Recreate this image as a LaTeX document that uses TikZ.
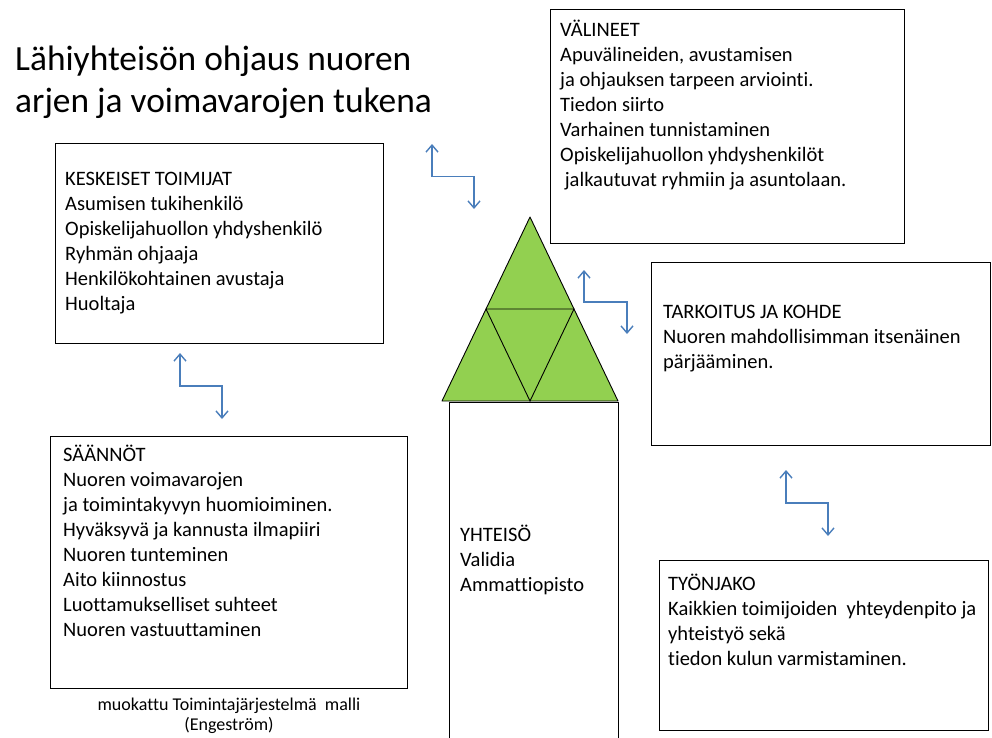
\documentclass[tikz,border=0pt]{standalone}
\usepackage{fontspec}
\setmainfont{Carlito}[Ligatures=NoCommon]
\usetikzlibrary{arrows.meta,calc}

\definecolor{linkblue}{HTML}{4A7EBB}
\definecolor{trigreen}{HTML}{92D050}
\newcommand\boxfont{\fontsize{20.5}{25}\selectfont}

\begin{document}
\begin{tikzpicture}[%
    x=1pt, y=-1pt,                        % Work in pixels, top-down
    >={Straight Barb[length=7pt,width=12pt]}, % Open barbs on the links
    ]
% -------------------------------------------------
% Box and text styles
\tikzset{
  box/.style={draw, anchor=north west, inner sep=0pt, line width=0.9pt},
  txt/.style={anchor=north west, align=left, inner sep=0pt, font=\boxfont},
  % Blue double-headed elbow links
  link/.style={<->, draw=linkblue, line width=1.4pt},
  tri/.style={fill=trigreen, draw=black, line width=0.9pt, line join=round}
}
\useasboundingbox (0,0) rectangle (992,737);
% -------------------------------------------------
% Title
\node [anchor=north west, align=left, inner sep=0pt,
       font={\fontsize{35.4}{42}\selectfont}] (title) at (15,40.6)
  {\strut Lähiyhteisön ohjaus nuoren\\arjen ja voimavarojen tukena};

% The boxes, then their texts (a strut on the first line fixes its top)
\node [box, minimum width=328, minimum height=200] (toimijat) at (55,143) {};
\node [box, minimum width=354, minimum height=234] (valineet) at (550,9) {};
\node [box, minimum width=339, minimum height=183] (tarkoitus) at (651,262) {};
\node [box, minimum width=357, minimum height=252] (saannot) at (50,436) {};
\node [box, minimum width=329, minimum height=170] (tyonjako) at (659,560) {};
\node [box, minimum width=169, minimum height=345] (yhteiso) at (449,402) {};

\node [txt] (toimijat-txt) at ([shift={(10,24.5)}]toimijat.north west)
  {\strut KESKEISET TOIMIJAT\\Asumisen tukihenkilö\\Opiskelijahuollon yhdyshenkilö\\
   Ryhmän ohjaaja\\Henkilökohtainen avustaja\\Huoltaja};
\node [txt] (valineet-txt) at ([shift={(10,9.5)}]valineet.north west)
  {\strut VÄLINEET\\Apuvälineiden, avustamisen\\ja ohjauksen tarpeen arviointi.\\
   Tiedon siirto\\Varhainen tunnistaminen\\Opiskelijahuollon yhdyshenkilöt\\
   \ jalkautuvat ryhmiin ja asuntolaan.};
\node [txt] (tarkoitus-txt) at ([shift={(12,38.5)}]tarkoitus.north west)
  {\strut TARKOITUS JA KOHDE\\Nuoren mahdollisimman itsenäinen\\pärjääminen.};
\node [txt] (saannot-txt) at ([shift={(13,7.5)}]saannot.north west)
  {\strut SÄÄNNÖT\\Nuoren voimavarojen\\ja toimintakyvyn huomioiminen.\\
   Hyväksyvä ja kannusta ilmapiiri\\Nuoren tunteminen\\Aito kiinnostus\\
   Luottamukselliset suhteet\\Nuoren vastuuttaminen};
\node [txt] (tyonjako-txt) at ([shift={(9,12.5)}]tyonjako.north west)
  {\strut TYÖNJAKO\\Kaikkien toimijoiden\ \ yhteydenpito ja\\yhteistyö sekä\\
   tiedon kulun varmistaminen.};
\node [txt] (yhteiso-txt) at ([shift={(11,121.5)}]yhteiso.north west)
  {\strut YHTEISÖ\\Validia\\Ammattiopisto};

\node [anchor=north, align=center, inner sep=0pt,
       font={\fontsize{18}{20}\selectfont}] (source) at (229,696)
  {\strut muokattu Toimintajärjestelmä\ \ malli\\(Engeström)};

% -------------------------------------------------
% Triangle on top of the community column
\coordinate (apex) at (530,217);
\coordinate (base-l) at (442,401);
\coordinate (base-r) at (618,401);
\draw [tri] (apex) -- (base-l) -- (base-r) -- cycle;
\draw [line width=0.9pt]
  ($(apex)!.5!(base-l)$) -- ($(apex)!.5!(base-r)$)
  -- ($(base-l)!.5!(base-r)$) -- cycle;

% -------------------------------------------------
% Links between the parts
\coordinate (l1a) at (432,144);  \coordinate (l1b) at (474,209);
\coordinate (l2a) at (584,270);  \coordinate (l2b) at (627,334);
\coordinate (l3a) at (180,353);  \coordinate (l3b) at (222,419);
\coordinate (l4a) at (786,470);  \coordinate (l4b) at (828,536);
\draw [link] (l1a) |- ($(l1a)!.5!(l1b)$) -| (l1b);
\draw [link] (l2a) |- ($(l2a)!.5!(l2b)$) -| (l2b);
\draw [link] (l3a) |- ($(l3a)!.5!(l3b)$) -| (l3b);
\draw [link] (l4a) |- ($(l4a)!.5!(l4b)$) -| (l4b);

% -------------------------------------------------
\end{tikzpicture}
\end{document}
